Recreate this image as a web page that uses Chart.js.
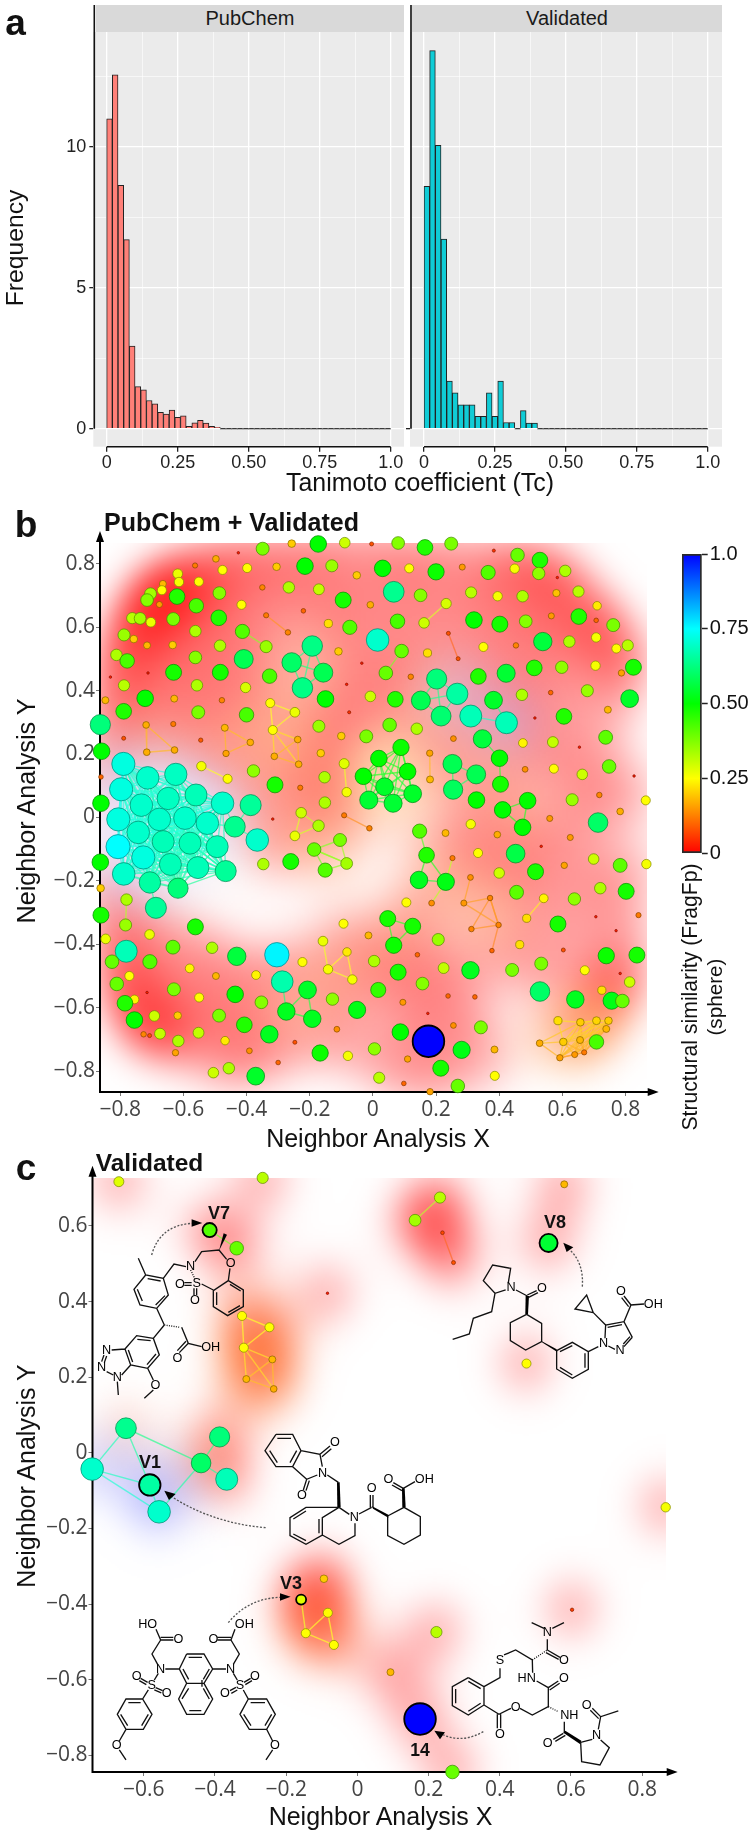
<!DOCTYPE html>
<html lang="en">
<head>
<meta charset="UTF-8">
<title>Tanimoto coefficient and neighbor analysis</title>
<script src="https://cdn.jsdelivr.net/npm/chart.js"></script>
<style>
  html, body { margin: 0; background: #fff; }
  #page { position: relative; width: 750px; height: 1831px; overflow: hidden; font-family: 'Liberation Sans', Arial, sans-serif; color: #111; }
  canvas, svg { position: absolute; }
  .lbl { position: absolute; white-space: nowrap; transform: translate(-50%, -50%); }
  .strip { position: absolute; background: #d9d9d9; font-size: 20px; color: #1a1a1a; text-align: center; line-height: 27px; height: 27px; top: 5px; }
  svg text { font-family: 'Liberation Sans', Arial, sans-serif; font-size: 38px; text-anchor: middle; dominant-baseline: central; }
  svg .b { fill: none; stroke: #111; stroke-width: 4; }
  svg .d { fill: none; stroke: #555; stroke-width: 4; stroke-dasharray: 6 5; }
</style>
</head>
<body>
<div id="page">
  <canvas id="histPub" width="405" height="472" style="left:0;top:0"></canvas>
  <canvas id="histVal" width="320" height="472" style="left:405px;top:0"></canvas>
  <div class="strip" style="left:96px;width:308px">PubChem</div>
  <div class="strip" style="left:412px;width:310px">Validated</div>
  <canvas id="mapAll" width="665" height="600" style="left:0;top:525px"></canvas>
  <canvas id="colorBar" width="80" height="330" style="left:670px;top:540px"></canvas>
  <canvas id="mapVal" width="690" height="670" style="left:0;top:1150px"></canvas>

  <svg width="750" height="1831" style="left:0;top:0">
    <!-- V7 -->
    <g transform="translate(0,1130) scale(.3333)">
      <path class="b" d="M415 385L437 435L490 445L505 495L470 535L420 525L402 478L437 435M443 446L482 453M495 497L467 525M427 513L412 478M490 445L522 402L558 410M585 395L605 365L657 360L680 388M690 415L685 452L730 480L730 530L683 557L640 530L640 482L685 452M690 463L722 483M720 527L685 547M650 525L650 487M605 462L640 480M553 458L575 458M553 466L575 466M582 475L582 495M590 475L590 495M470 535L493 585M545 592L565 640L605 650M565 640L538 668M558 634L532 662M493 585L460 625L478 675L443 715L392 705L375 657L410 617L460 625M412 628L452 632M468 672L441 704M398 696L385 660M375 657L335 660M392 705L365 735M320 725L340 735M312 675L305 695M320 678L313 698M352 755L355 795M443 715L460 750M460 780L433 805"/>
      <path class="b" style="stroke-dasharray:3 4" d="M572 420L585 447M493 585L540 592"/>
      <polygon points="657,362 671,310 681,314"/>
      <text x="572" y="408">N</text><text x="590" y="460">S</text><text x="692" y="400">O</text><text x="540" y="462">O</text><text x="585" y="510">O</text><text x="632" y="650">OH</text><text x="532" y="683">O</text><text x="320" y="660">N</text><text x="305" y="712">N</text><text x="352" y="742">N</text><text x="466" y="765">O</text>
      <path class="d" d="M455 375Q480 285 578 280"/>
      <polygon points="575,268 607,279 575,290"/>
    </g>
    <!-- V8 -->
    <g transform="translate(340,1130) scale(.3333)">
      <path class="b" d="M505 458L512 415L458 405L430 452L465 490L497 480M465 490L455 545L400 565L388 612L338 628M528 480L562 498M562 495L590 482M566 502L594 488M560 553L605 580L605 635L557 660L511 632L511 578L560 553M650 662L697 637L745 665L745 718L697 745L650 717L650 662M660 665L697 647M735 670L735 713M697 735L660 712M745 665L775 650M795 625L797 585L852 575L877 622M803 592L846 584M877 622L852 650M870 620L850 642M805 648L825 658M797 585L760 548M760 548L705 537L740 495L760 548M852 575L873 525L912 522M873 525L852 498M866 530L845 503"/>
      <polygon points="556,553 564,553 567,498 557,498"/><polygon points="603,632 608,638 652,666 650,658"/>
      <text x="513" y="470">N</text><text x="606" y="473">O</text><text x="791" y="640">N</text><text x="840" y="660">N</text><text x="940" y="522">OH</text><text x="843" y="483">O</text>
      <path class="d" d="M727 470Q732 400 690 360"/>
      <polygon points="670,338 700,352 680,366"/>
    </g>
    <!-- V1 -->
    <g transform="translate(240,1420) scale(.3333)">
      <path class="b" d="M108 43L158 43L183 92L158 140L108 140L75 92L108 43M112 55L153 55M170 92L150 128M112 128L89 92M183 92L240 103L247 140M158 140L200 178L232 165M240 103L270 78M246 110L274 86M200 178L190 210M208 182L198 212M262 165L295 187M297 262L328 283M297 262L247 293L247 345L198 373L150 347L150 293L198 262L297 262M237 297L237 340M198 362L160 342M160 297L198 273M247 345L297 373L345 347L345 310M357 282L395 262M391 262L391 225M399 262L399 225M443 288L492 262L541 290L541 345L492 373L443 347L443 288M490 205L460 188M486 212L456 195M490 205L525 185"/>
      <polygon points="291,187 299,187 302,262 292,262"/><polygon points="395,258 399,266 445,293 445,284"/><polygon points="486,205 494,205 497,262 487,262"/>
      <text x="285" y="67">O</text><text x="248" y="158">N</text><text x="186" y="226">O</text><text x="343" y="292">N</text><text x="395" y="205">O</text><text x="445" y="178">O</text><text x="553" y="178">OH</text>
    </g>
    <g transform="translate(0,1480) scale(.3333)">
      <path class="d" d="M797 143Q640 130 515 50"/>
      <polygon points="493,32 527,42 507,60"/>
      <!-- V3 -->
      <path class="b" d="M560 522L612 522L638 567L612 610L560 610L538 567L560 522M566 532L606 532M549 567L566 598M628 567L610 598M612 610L638 657L612 703L560 703L536 657L560 610M606 620L606 600M568 692L604 692M546 657L566 625M628 657L610 625M496 567L538 567M638 567L678 567M473 553L456 522L482 480L468 448M482 472L520 472M482 480L520 480M700 553L718 522L693 480L705 448M693 472L652 472M693 480L652 480M422 595L443 607M418 602L439 614M467 623L488 632M463 630L484 639M445 630L428 657L456 703L430 748L378 748L352 703L378 657L428 657M385 668L422 668M445 703L425 737M383 737L362 703M378 748L358 783M358 810L378 840M700 580L712 600M475 580L463 600M690 632L708 622M694 640L712 630M732 607L752 595M736 614L756 602M730 630L745 657L800 657L826 703L800 748L748 748L720 703L745 657M752 668L795 668M815 703L795 737M753 737L731 703M800 748L818 783M818 810L798 840"/>
      <text x="482" y="567">N</text><text x="692" y="567">N</text><text x="535" y="476">O</text><text x="640" y="476">O</text><text x="443" y="431">HO</text><text x="733" y="431">OH</text><text x="455" y="615">S</text><text x="720" y="615">S</text><text x="410" y="588">O</text><text x="500" y="640">O</text><text x="765" y="588">O</text><text x="675" y="640">O</text><text x="350" y="795">O</text><text x="825" y="795">O</text>
      <path class="d" d="M685 428Q745 355 840 352"/>
      <polygon points="872,350 840,340 840,362"/>
    </g>
    <!-- 14 -->
    <g transform="translate(340,1480) scale(.3333)">
      <path class="b" d="M385 593L432 620L432 675L385 705L337 677L337 620L385 593M385 604L422 626M422 670L385 694M347 670L347 627M432 620L480 593L480 565M492 525L527 510L577 540L578 578M622 510L660 532M618 518L656 538M622 510L622 478M612 445L575 428M637 445L672 428M590 603L625 623L655 603M629 630L659 610M625 623L625 680L577 705L540 685M513 685L477 703L432 675M472 703L472 745M482 703L482 745M673 725L673 758M670 760L640 778M676 766L646 784M722 787L757 778M782 780L808 803L780 855L725 845L722 787M775 748L782 710L835 693M782 710L757 685M776 716L751 691"/>
      <path class="b" style="stroke-dasharray:3 4" d="M577 540L622 510M625 680L655 695"/>
      <polygon points="670,758 676,752 724,782 720,792"/>
      <text x="480" y="540">S</text><text x="560" y="595">HN</text><text x="622" y="455">N</text><text x="672" y="540">O</text><text x="672" y="595">O</text><text x="527" y="680">O</text><text x="480" y="762">O</text><text x="688" y="705">NH</text><text x="623" y="788">O</text><text x="770" y="765">N</text><text x="740" y="675">O</text>
      <path class="d" d="M430 755Q370 790 310 765"/>
      <polygon points="283,752 315,757 300,778"/>
    </g>
  </svg>
</div>

<script>
// a: histogram bins (Tc bin centres, frequency)
const binCenters = [.01,.03,.05,.07,.09,.11,.13,.15,.17,.19,.21,.23,.25,.27,.29,.31,.33,.35,.37,.39,.41,.43,.45,.47,.49,.51,.53,.55,.57,.59,.61,.63,.65,.67,.69,.71,.73,.75,.77,.79,.81,.83,.85,.87,.89,.91,.93,.95,.97,.99];
const pubchemFreq = [11.0,12.56,8.64,6.71,2.93,1.49,1.38,1.0,.88,.58,.52,.66,.4,.46,.08,.21,.3,.2,.08,.05,0,0,0,0,0,0,0,0,0,0,0,0,0,0,0,0,0,0,0,0,0,0,0,0,0,0,0,0,0,0];
const validatedFreq = [8.6,13.42,10.06,6.73,1.69,1.27,.85,.85,.85,.44,.44,1.27,.44,1.69,.22,.22,0,.64,.2,.2,0,0,0,0,0,0,0,0,0,0,0,0,0,0,0,0,0,0,0,0,0,0,0,0,0,0,0,0,0,0];

// b: PubChem + Validated spheres
const pointsX = [
-.349,-.257,-.173,-.089,-.426,-.563,-.497,-.476,-.398,-.305,
-.215,-.130,-.618,-.665,-.614,-.551,-.668,-.704,-.715,-.620,
-.486,-.350,-.266,-.171,-.094,-.676,-.559,-.416,-.762,-.737,
-.703,-.632,-.488,-.338,-.220,-.141,-.073,-.788,-.757,-.562,
-.413,-.269,-.715,-.634,-.484,-.338,-.192,-.812,-.778,-.562,
-.409,-.257,-.109,-.157,-.831,-.712,-.631,-.483,-.327,-.223,
-.788,-.557,-.403,-.150,-.083,-.847,-.721,-.629,-.478,-.325,
-.247,-.789,-.553,-.400,-.075,-.863,-.718,-.632,-.469,-.317,
-.171,-.789,-.545,-.238,-.388,-.100,-.859,-.716,-.628,-.465,
-.312,-.165,-.235,-.091,-.790,-.543,-.378,-.460,-.713,-.624,
-.861,-.153,-.310,-.230,-.083,-.004,.080,.165,.248,.383,
.458,.529,.525,.609,-.051,.031,.115,.200,.283,.365,
.449,.584,.066,.151,.311,.395,.474,.581,.651,-.008,
.232,.710,.078,.162,.320,.402,.484,.565,.652,.707,
.761,.015,.239,.350,.453,.538,.622,.707,.771,.807,
.091,.173,.270,-.035,.041,.120,.334,.422,.511,.598,
.705,.787,.825,.202,-.008,.071,.152,.267,.472,.563,
.679,.382,.813,.744,.216,.310,.423,.605,.513,-.021,
.053,.139,.255,.347,.737,.475,.570,.654,.089,.019,
.180,.252,.401,.748,.482,.573,.663,.827,-.030,.110,
.327,.181,.037,.254,.404,.126,-.013,.064,.328,.411,
.490,.474,.631,.717,.864,.783,.713,.560,-.091,-.011,
.148,.230,.310,.394,.625,.533,.170,.333,.452,.252,
-.083,.515,.606,.699,.783,.866,.146,.231,.309,.400,
.720,.802,.455,.638,.541,.106,.186,.288,.371,.487,
.586,.706,.841,.047,.126,-.093,.312,.398,.770,-.014,
.207,.066,.465,.377,.603,-.082,.141,.739,.836,.004,
.533,.080,.224,.309,.441,.671,.783,-.065,.813,.157,
.017,.238,.323,.725,.529,.641,.756,.790,.095,-.050,
.174,.586,.657,.708,.746,.739,.255,.342,.087,.176,
.656,.603,.708,.528,.005,-.079,.281,.385,.669,.639,
.592,.110,.215,.020,.386,.098,.269,.181,-.861,-.733,
-.648,-.560,-.797,-.476,-.387,-.806,-.676,-.595,-.524,-.437,
-.743,-.664,-.579,-.493,-.366,-.807,-.727,-.641,-.554,-.466,
-.789,-.706,-.617,-.687,-.347,-.260,-.863,-.862,-.780,-.861,
-.783,-.562,-.707,-.846,-.142,-.158,-.633,-.509,-.431,-.304,
-.781,-.826,-.706,-.223,-.580,-.497,-.370,-.287,-.771,-.811,
-.630,-.755,-.550,-.207,-.436,-.353,-.128,-.785,-.715,-.274,
-.192,-.755,-.692,-.618,-.487,-.407,-.114,-.726,-.707,-.674,
-.616,-.552,-.468,-.328,-.247,-.625,-.391,-.300,-.167,-.151,
-.505,-.456,-.371,-.227,-.172,-.247,-.317,-.152,-.186,-.104];
const pointsY = [
.848,.864,.863,.867,.835,.795,.816,.781,.787,.791,
.793,.794,.769,.737,.743,.744,.717,.706,.686,.697,
.708,.726,.726,.720,.686,.672,.668,.671,.629,.628,
.616,.626,.630,.638,.652,.612,.600,.576,.563,.588,
.587,.584,.543,.544,.542,.539,.541,.513,.494,.505,
.500,.489,.524,.457,.443,.456,.458,.458,.446,.409,
.417,.417,.410,.374,.420,.370,.376,.375,.370,.361,
.332,.335,.332,.324,.332,.293,.292,.295,.283,.276,
.288,.250,.244,.246,.237,.257,.209,.206,.213,.202,
.193,.203,.168,.170,.169,.162,.147,.122,.125,.136,
.128,.127,.103,.094,.080,.863,.866,.852,.864,.842,
.828,.812,.770,.778,.764,.786,.786,.775,.790,.773,
.785,.757,.712,.701,.710,.698,.698,.708,.713,.671,
.675,.668,.619,.614,.623,.610,.619,.636,.634,.622,
.607,.560,.581,.538,.543,.555,.555,.568,.533,.543,
.525,.519,.501,.487,.456,.444,.445,.455,.472,.474,
.479,.456,.474,.437,.382,.373,.369,.390,.387,.394,
.400,.370,.375,.340,.320,.320,.299,.319,.314,.256,
.292,.280,.249,.248,.253,.235,.238,.222,.221,.186,
.203,.169,.187,.161,.152,.154,.136,.131,.130,.145,
.136,.120,.097,.088,.105,.075,.055,.045,.055,.024,
.053,-.031,.056,.071,.054,.019,-.016,-.003,.007,-.034,
-.043,-.049,-.021,-.054,-.063,-.091,-.119,-.112,-.114,-.128,
-.145,-.171,-.151,-.131,-.151,-.147,-.197,-.203,-.189,-.175,
-.223,-.233,-.236,-.257,-.255,-.268,-.270,-.270,-.254,-.318,
-.336,-.313,-.308,-.319,-.343,-.335,-.352,-.339,-.357,-.372,
-.385,-.403,-.401,-.420,-.418,-.424,-.433,-.436,-.434,-.453,
-.461,-.488,-.475,-.482,-.481,-.482,-.492,-.511,-.519,-.524,
-.544,-.563,-.566,-.545,-.549,-.574,-.578,-.579,-.583,-.607,
-.618,-.641,-.646,-.641,-.641,-.667,-.656,-.662,-.677,-.706,
-.702,-.708,-.708,-.712,-.730,-.752,-.733,-.732,-.741,-.748,
-.758,-.762,-.791,-.821,-.815,-.839,-.847,-.865,.045,.039,
.060,.071,.089,.045,.039,-.006,-.006,-.002,-.018,-.029,
-.047,-.076,-.081,-.092,-.071,-.092,-.126,-.148,-.158,-.169,
-.178,-.205,-.223,-.285,-.147,-.139,-.141,-.223,-.259,-.308,
-.339,-.345,-.369,-.383,-.479,-.390,-.409,-.411,-.438,-.433,
-.422,-.455,-.455,-.456,-.476,-.500,-.497,-.518,-.500,-.525,
-.542,-.574,-.568,-.544,-.558,-.583,-.573,-.586,-.552,-.612,
-.635,-.639,-.626,-.625,-.625,-.654,-.668,-.684,-.688,-.682,
-.705,-.679,-.704,-.684,-.709,-.742,-.736,-.773,-.743,-.166,
-.805,-.791,-.816,.015,-.026,-.058,-.005,.047,-.101,-.071];
const pointsSim = [
.38,.2,.5,.3,.03,.12,.17,.25,.25,.2,
.5,.35,.27,.18,.26,.25,.25,.34,.37,.47,
.37,.13,.33,.31,.48,.15,.43,.25,.32,.34,
.27,.38,.47,.12,.1,.22,.42,.35,.2,.33,
.42,.13,.18,.2,.33,.35,.63,.33,.43,.37,
.58,.6,.2,.58,.03,.03,.48,.48,.43,.63,
.32,.33,.29,.5,.03,.18,.5,.18,.13,.25,
.27,.47,.38,.43,.05,.62,.17,.12,.18,.25,
.35,.08,.09,.17,.17,.2,.5,.17,.17,.16,
.17,.2,.17,.28,.72,.26,.36,.25,.7,.69,
.1,.33,.48,.12,.26,.08,.37,.47,.38,.05,
.4,.47,.36,.33,.2,.5,.25,.49,.15,.42,
.26,.03,.64,.37,.32,.26,.33,.19,.32,.17,
.29,.23,.43,.3,.5,.48,.37,.15,.47,.1,
.38,.7,.08,.25,.13,.56,.33,.26,.25,.32,
.4,.22,.08,.03,.4,.13,.47,.55,.47,.36,
.26,.16,.48,.62,.3,.47,.58,.66,.33,.1,
.35,.54,.54,.18,.61,.68,.68,.47,.03,.38,
.4,.33,.14,.56,.41,.24,.31,.03,.49,.5,
.16,.58,.5,.4,.14,.25,.3,.03,.5,.5,
.58,.18,.54,.59,.48,.54,.55,.55,.5,.5,
.5,.5,.35,.13,.25,.17,.6,.15,.12,.13,
.42,.18,.26,.17,.15,.03,.47,.25,.57,.12,
.34,.48,.16,.3,.41,.26,.53,.52,.14,.3,
.33,.48,.41,.36,.24,.25,.14,.15,.13,.22,
.48,.03,.12,.48,.48,.25,.13,.13,.03,.18,
.35,.49,.22,.1,.08,.23,.1,.49,.48,.33,
.38,.48,.31,.53,.38,.25,.03,.26,.3,.37,
.45,.1,.1,.22,.6,.53,.52,.4,.15,.52,
.03,.22,.2,.21,.2,.18,.14,.38,.5,1,
.18,.2,.43,.17,.36,.26,.52,.18,.12,.15,
.16,.16,.48,.32,.25,.1,.4,.16,.5,.7,
.69,.68,.72,.7,.65,.72,.7,.7,.7,.64,
.7,.68,.68,.68,.7,.75,.72,.68,.68,.65,
.7,.66,.62,.65,.33,.48,.5,.2,.33,.48,
.35,.48,.27,.27,.26,.27,.41,.33,.56,.76,
.68,.4,.42,.25,.24,.18,.24,.67,.25,.4,
.38,.24,.25,.54,.5,.37,.36,.47,.03,.53,
.53,.5,.3,.2,.38,.47,.14,.13,.08,.31,
.33,.31,.23,.53,.08,.16,.14,.1,.49,.42,
.3,.33,.54,.3,.33,.27,.03,.33,.4,.38];
// linked groups, 1-based point numbers; every pair in a group has an edge
const linksAll = [
[77,88,89],[96,98],[79,85],[85,90],[79,90],[70,71,80],[80,84,91,93],[34,42],[41,46],
[47,52,54,60],[134,131],[143,153],[151,155],[94,105],[191,202],
[164,167,168,175],[176,177],[172,177],[184,193],[193,205],[192,201,204],
[189,190,200,199,203,206,207,208],
[95,99,100,320,321,322,323,324,326,327,328,329,331,332,333,334,336,337,338,339,340,341,342,343],
[325,330],[330,335],[330,329],[330,324],[342,344],
[221,227],[227,237,238],[230,238],[247,238],
[239,248],[248,249,258],[249,257,258],[258,264],[250,245],[254,255,262],[210,211,212],[219,220],
[355,266,278],[356,355],[404,405,406],[409,410,231],[409,400,231],[374,380,381],[368,380],[349,351],
[293,294,295,296,301,302,310,311,309],[304,293],[304,302],[304,311],[292,302],[292,293]];

// c: Validated spheres
const validX = [-.670,-.266,-.415,-.339,-.324,-.247,-.319,-.239,-.312,-.235,-.084,-.650,-.387,-.439,-.745,-.583,-.367,-.557,.232,.162,.239,.270,.581,.537,.475,.866,.603,.222,.093,.176,.267,-.094,-.158,-.083,-.145,-.066];
const validY = [.717,.727,.589,.541,.362,.332,.278,.247,.195,.169,.422,.065,.042,-.027,-.043,-.085,-.070,-.156,.675,.615,.582,.503,.710,.555,.236,-.144,-.415,-.474,-.580,-.704,-.844,-.333,-.388,-.423,-.477,-.508];
const validSim = [.28,.32,.42,.4,.25,.25,.25,.18,.18,.17,.03,.64,.62,.6,.7,.66,.68,.7,.32,.34,.07,.08,.18,.55,.25,.26,.06,.32,.18,1,.4,.2,.28,.25,.25,.25];
const validMarked = [3,16,24,30,33];
const linksVal = [[3,4],[5,6,7],[7,8,9,10],[12,15,16],[15,18],[16,18],[12,14],[14,18],[14,17],[14,13],[19,20],[21,22],[33,35],[34,35,36]];

const barTickLabels = {0: '0', .25: '0.25', .5: '0.50', .75: '0.75', 1: '1.0'};

Chart.defaults.animation = false;
Chart.defaults.events = [];
Chart.defaults.font.family = "'Liberation Sans', Arial, sans-serif";
Chart.defaults.plugins.legend.display = false;
Chart.defaults.plugins.tooltip.enabled = false;

// similarity 0..1 runs red -> yellow -> green -> cyan -> blue
function simHue(s) { return s * 240; }
function simFill(s) { return `hsl(${simHue(s)},100%,50%)`; }
function simEdge(s) { return `hsla(${simHue(s)},100%,28%,.75)`; }
function simRadius(s) { return .8 + 15 * s; }

function addLabel(text, x, y, size, opts) {
  opts = opts || {};
  let el = document.createElement("div");
  el.className = "lbl";
  el.textContent = text;
  el.style.left = x + "px";
  el.style.top = y + "px";
  el.style.fontSize = size + "px";
  if (opts.bold) el.style.fontWeight = "bold";
  if (opts.rot) el.style.transform = "translate(-50%,-50%) rotate(-90deg)";
  document.getElementById("page").appendChild(el);
}

// histogram panels
const histFrame = {
  id: 'histFrame',
  beforeDraw(chart) {
    let a = chart.chartArea, ctx = chart.ctx;
    ctx.fillStyle = '#ebebeb';
    ctx.fillRect(a.left, a.top, a.right - a.left, a.bottom - a.top);
  },
  afterDraw(chart) {
    let a = chart.chartArea, ctx = chart.ctx, x = chart.scales.x, y = chart.scales.y;
    ctx.strokeStyle = '#111';
    ctx.lineWidth = 1.6;
    ctx.beginPath();
    ctx.moveTo(x.getPixelForValue(0), a.bottom);
    ctx.lineTo(x.getPixelForValue(1), a.bottom);
    ctx.moveTo(a.left + 1, 5);
    ctx.lineTo(a.left + 1, y.getPixelForValue(0));
    ctx.stroke();
  }
};

function histChart(id, values, fill, left, right, xMin, xMax, showY) {
  return new Chart(document.getElementById(id), {
    type: 'bar',
    data: {
      datasets: [{
        data: binCenters.map((c, i) => ({x: c, y: values[i]})),
        backgroundColor: c => c.raw.y === 0 ? '#222' : fill,
        borderColor: '#222',
        borderWidth: 1,
        barPercentage: 1,
        categoryPercentage: 1,
        minBarLength: 1
      }]
    },
    options: {
      responsive: false,
      devicePixelRatio: 1,
      layout: {padding: {top: 32, right: right}},
      scales: {
        x: {
          type: 'linear', offset: false, min: xMin, max: xMax,
          afterFit: s => { s.height = 25.3; },
          border: {display: false},
          grid: {
            offset: false, color: '#fff', tickLength: 5,
            lineWidth: c => c.tick && barTickLabels[c.tick.value] !== undefined ? 1.3 : .6,
            tickColor: c => c.tick && barTickLabels[c.tick.value] !== undefined ? '#222' : 'rgba(0,0,0,0)'
          },
          ticks: {
            stepSize: .125, includeBounds: false, autoSkip: false, maxRotation: 0, padding: 1,
            color: '#222', font: {size: 18},
            callback: v => barTickLabels[v] === undefined ? '' : barTickLabels[v]
          }
        },
        y: {
          min: -.64, max: 14.08,
          afterFit: s => { s.width = left; },
          border: {display: false},
          grid: {
            color: '#fff', tickLength: 4,
            lineWidth: c => c.tick && c.tick.value % 5 === 0 ? 1.3 : .6,
            tickColor: c => {
              if (!c.tick) return 'rgba(0,0,0,0)';
              if (showY) return c.tick.value % 5 === 0 ? '#222' : 'rgba(0,0,0,0)';
              return c.tick.value === 0 ? '#222' : 'rgba(0,0,0,0)';
            }
          },
          ticks: {
            stepSize: 2.5, includeBounds: false, autoSkip: false, padding: 3,
            color: '#222', font: {size: 18},
            callback: v => showY && v % 5 === 0 ? String(v) : ''
          }
        }
      }
    },
    plugins: [histFrame]
  });
}
histChart('histPub', pubchemFreq, '#ff8078', 93.3, 1, -.047, 1.047, true);
histChart('histVal', validatedFreq, '#10ccd6', 5, 3, -.0493, 1.0504, false);

// neighbour maps
function buildEdges(groups, xs, ys, sims) {
  let data = [], degree = xs.map(() => 0);
  groups.forEach(g => {
    for (let i = 0; i < g.length; i++) {
      for (let j = i + 1; j < g.length; j++) {
        let a = g[i] - 1, b = g[j] - 1, s = (sims[a] + sims[b]) / 2;
        data.push({x: xs[a], y: ys[a], s: s}, {x: xs[b], y: ys[b], s: s}, {x: NaN, y: NaN, s: s});
        degree[a]++;
        degree[b]++;
      }
    }
  });
  return {data, degree};
}

function tintOf(s) {
  if (s < .3) return [255, 150, 0];
  if (s < .56) return [255, 240, 80];
  if (s < .66) return [255, 205, 100];
  return [90, 100, 255];
}

// background: a kernel density of the points, red for lone points, tinted for linked ones
function densityPlugin(xs, ys, sims, degree, sigma, gain) {
  return {
    id: 'density',
    beforeDatasetsDraw(chart) {
      let a = chart.chartArea, sx = chart.scales.x, sy = chart.scales.y, ctx = chart.ctx;
      let step = 2;
      let w = Math.ceil((a.right - a.left) / step), h = Math.ceil((a.bottom - a.top) / step);
      let off = document.createElement('canvas');
      off.width = w;
      off.height = h;
      let oc = off.getContext('2d'), img = oc.createImageData(w, h);
      let tints = sims.map(tintOf);
      let mass = degree.map(d => 1 / (1 + .1 * d));
      let mix = degree.map((d, k) => {
        if (d < 2) return 0;
        return sims[k] >= .66 ? 1 : (d - 1) / (d + 1);
      });
      let two = 2 * sigma * sigma;
      for (let j = 0; j < h; j++) {
        let vy = sy.getValueForPixel(a.top + (j + .5) * step);
        for (let i = 0; i < w; i++) {
          let vx = sx.getValueForPixel(a.left + (i + .5) * step);
          let d = 0, sum = 0, r = 0, g = 0, b = 0;
          for (let k = 0; k < xs.length; k++) {
            let dx = vx - xs[k], dy = vy - ys[k], q = (dx * dx + dy * dy) / two;
            if (q > 8) continue;
            let m = Math.exp(-q) * mass[k], t = tints[k], u = mix[k];
            let c = m * (1 + 2 * u);
            d += m;
            sum += c;
            r += c * ((1 - u) * 255 + u * t[0]);
            g += c * (u * t[1]);
            b += c * (u * t[2]);
          }
          let p = (j * w + i) * 4;
          if (d > 0) {
            img.data[p] = r / sum;
            img.data[p + 1] = g / sum;
            img.data[p + 2] = b / sum;
            img.data[p + 3] = 255 * (1 - Math.exp(-Math.pow(gain * d, 1.6)));
          }
        }
      }
      oc.putImageData(img, 0, 0);
      ctx.save();
      ctx.imageSmoothingEnabled = true;
      ctx.drawImage(off, a.left, a.top, a.right - a.left, a.bottom - a.top);
      ctx.restore();

      // arrow axes sit on top of the field but under the spheres
      ctx.save();
      ctx.strokeStyle = '#000';
      ctx.fillStyle = '#000';
      ctx.lineWidth = 2;
      ctx.beginPath();
      ctx.moveTo(a.left, a.top - 6);
      ctx.lineTo(a.left, a.bottom);
      ctx.lineTo(a.right + 6, a.bottom);
      ctx.stroke();
      ctx.beginPath();
      ctx.moveTo(a.left, a.top - 12);
      ctx.lineTo(a.left - 4, a.top - 1);
      ctx.lineTo(a.left + 4, a.top - 1);
      ctx.closePath();
      ctx.moveTo(a.right + 12, a.bottom);
      ctx.lineTo(a.right + 1, a.bottom - 4);
      ctx.lineTo(a.right + 1, a.bottom + 4);
      ctx.closePath();
      ctx.fill();
      ctx.restore();
    }
  };
}

function tickText(v) {
  if (Math.abs(v) < 1e-6) return '0';
  return v.toFixed(1).replace('-', '\u2212');
}

function mapChart(id, xs, ys, sims, groups, marked, box, xRange, yRange, sigma, gain) {
  let edges = buildEdges(groups, xs, ys, sims);
  let axis = (range, fit) => ({
    type: 'linear', min: range[0], max: range[1],
    afterFit: fit,
    border: {display: false},
    grid: {drawOnChartArea: false, tickLength: 4, tickColor: '#777'},
    ticks: {
      stepSize: .2, includeBounds: false, autoSkip: false, maxRotation: 0, padding: 1,
      color: '#444', font: {family: "'Open Sans', sans-serif", size: 21},
      callback: tickText
    }
  });
  return new Chart(document.getElementById(id), {
    type: 'bubble',
    data: {
      datasets: [{
        type: 'line',
        data: edges.data,
        order: 2,
        clip: false,
        pointRadius: 0,
        borderWidth: 1.4,
        spanGaps: false,
        segment: {borderColor: c => `hsla(${simHue(edges.data[c.p0DataIndex].s)},100%,58%,.7)`}
      }, {
        data: xs.map((x, i) => ({x: x, y: ys[i], r: simRadius(sims[i]), s: sims[i], m: marked.includes(i + 1)})),
        order: 1,
        clip: false,
        backgroundColor: c => simFill(c.raw.s),
        borderColor: c => c.raw.m ? '#000' : simEdge(c.raw.s),
        borderWidth: c => c.raw.m ? 1.8 : 1
      }]
    },
    options: {
      responsive: false,
      devicePixelRatio: 1,
      layout: {padding: {top: box.top, right: box.right}},
      scales: {
        x: axis(xRange, s => { s.height = box.bottom; }),
        y: axis(yRange, s => { s.width = box.left; })
      }
    },
    plugins: [densityPlugin(xs, ys, sims, edges.degree, sigma, gain)]
  });
}

mapChart('mapAll', pointsX, pointsY, pointsSim, linksAll, [300],
  {top: 18, right: 18.3, bottom: 33, left: 100}, [-.864, .867], [-.866, .866], .085, .125);
mapChart('mapVal', validX, validY, validSim, linksVal, validMarked,
  {top: 27.7, right: 24.3, bottom: 48, left: 92.5}, [-.744, .866], [-.844, .7275], .08, .38);

// colour bar
new Chart(document.getElementById('colorBar'), {
  type: 'bar',
  data: {
    labels: [''],
    datasets: [{
      data: [1],
      barPercentage: 1,
      categoryPercentage: 1,
      borderColor: '#2a2a2a',
      borderWidth: 2,
      borderSkipped: false,
      backgroundColor: c => {
        let a = c.chart.chartArea;
        if (!a) return '#fff';
        let g = c.chart.ctx.createLinearGradient(0, a.bottom, 0, a.top);
        [0, .25, .5, .75, 1].forEach(s => g.addColorStop(s, simFill(s)));
        return g;
      }
    }]
  },
  options: {
    responsive: false,
    devicePixelRatio: 1,
    layout: {padding: {top: 13, left: 12, bottom: 16.7}},
    scales: {
      x: {display: false},
      y: {
        position: 'right', min: 0, max: 1,
        afterFit: s => { s.width = 48.3; },
        border: {display: false},
        grid: {drawOnChartArea: false, tickLength: 6, tickColor: '#222', tickWidth: 1.5},
        ticks: {
          stepSize: .25, padding: 2, color: '#111', font: {size: 20},
          callback: v => barTickLabels[v]
        }
      }
    }
  }
});

// panel letters and axis titles
addLabel('a', 15.5, 23, 37, {bold: true});
addLabel('b', 26, 525, 37, {bold: true});
addLabel('c', 26, 1168, 37, {bold: true});
addLabel('Frequency', 15, 248, 24.7, {rot: true});
addLabel('Tanimoto coefficient (Tc)', 420, 482, 24.9);
addLabel('PubChem + Validated', 231.5, 522, 25, {bold: true});
addLabel('Neighbor Analysis Y', 26, 811, 25.2, {rot: true});
addLabel('Neighbor Analysis X', 378, 1138, 25);
addLabel('Structural similarity (FragFp)', 690, 997, 21.2, {rot: true});
addLabel('(sphere)', 715, 997, 20.7, {rot: true});
addLabel('Validated', 149.5, 1163, 24.5, {bold: true});
addLabel('Neighbor Analysis Y', 26, 1476, 25, {rot: true});
addLabel('Neighbor Analysis X', 380.5, 1816, 25);
addLabel('V7', 219, 1213, 18, {bold: true});
addLabel('V8', 555, 1222, 18, {bold: true});
addLabel('V1', 150, 1462, 18, {bold: true});
addLabel('V3', 291, 1583, 18, {bold: true});
addLabel('14', 420, 1750, 17.5, {bold: true});
</script>
</body>
</html>
